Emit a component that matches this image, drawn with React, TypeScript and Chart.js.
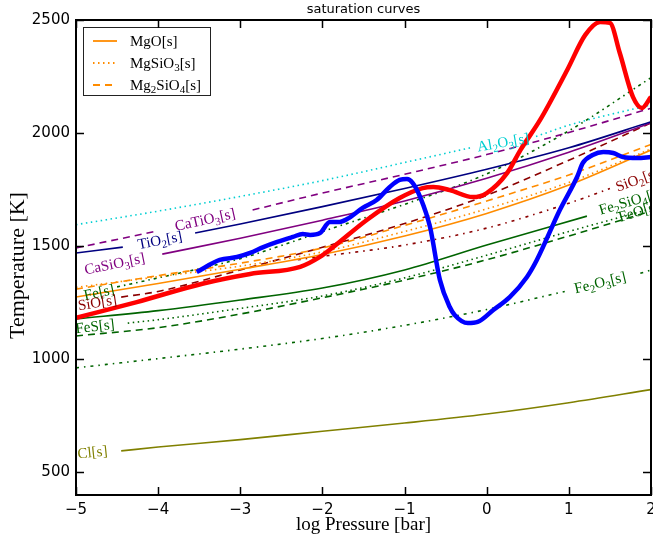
import React, { useEffect, useRef } from 'react';
import { Chart, registerables } from 'chart.js';
Chart.register(...registerables);

// ---------- axes ----------
const xTicks = [-5, -4, -3, -2, -1, 0, 1, 2];
const yTicks = [500, 1000, 1500, 2000, 2500];
const xRange = [-5, 2];
const yRange = [400, 2500];

// ---------- P-T profiles ----------
const redP = [-5, -4.26, -3.45, -2.88, -2.27, -2.03, -1.87, -1.46, -1.06, -0.78, -0.65, -0.45, -0.17, 0, 0.25, 0.41, 0.65, 0.98, 1.2, 1.38, 1.5, 1.62, 1.78, 1.89, 2];
const redT = [1183, 1253, 1335, 1377, 1409, 1453, 1496, 1616, 1713, 1757, 1762, 1748, 1717, 1735, 1824, 1925, 2058, 2279, 2434, 2491, 2487, 2354, 2160, 2111, 2160];

const blueP = [-3.53, -3.25, -3.04, -2.88, -2.72, -2.55, -2.36, -2.24, -2.15, -2.03, -1.91, -1.79, -1.7, -1.51, -1.34, -1.18, -1.06, -0.97, -0.9, -0.81, -0.69, -0.57, -0.45, -0.39, -0.23, -0.11, 0.08, 0.28, 0.49, 0.61, 0.89, 1.1, 1.17, 1.29, 1.42, 1.54, 1.66, 1.83, 2];
const blueT = [1386, 1439, 1452, 1470, 1496, 1519, 1541, 1554, 1550, 1558, 1607, 1607, 1620, 1669, 1704, 1762, 1793, 1797, 1779, 1717, 1585, 1351, 1231, 1196, 1160, 1165, 1218, 1275, 1364, 1439, 1660, 1806, 1868, 1903, 1916, 1912, 1894, 1890, 1894];

// ---------- saturation curves (null = gap where a label sits) ----------
const mgoP = [-5, -4, -3, -2, -1, 0, 1, 2];
const mgoT = [1275, 1335, 1398, 1463, 1545, 1645, 1770, 1925];
const mgsio3P = [-5, -4, -3, -2, -1, 0, 1, 2];
const mgsio3T = [1318, 1365, 1412, 1475, 1565, 1665, 1782, 1930];
const mg2sio4P = [-5, -4, -3, -2, -1, 0, 1, 2];
const mg2sio4T = [1310, 1370, 1425, 1492, 1592, 1700, 1815, 1950];

const al2o3P = [-5, -4, -3, -2, -1, -0.2, 0.2, 0.6, 1, 2];
const al2o3T = [1595, 1655, 1720, 1790, 1870, 1935, null, 1985, 2035, 2125];
const catio3P = [-5, -4, -3.4, -2.85, -2, -1, 0, 1, 2];
const catio3T = [1492, 1568, null, 1660, 1735, 1818, 1905, 2003, 2110];
const tio2P = [-5, -4.43, -4, -3.55, -3, -2, -1, 0, 1, 2];
const tio2T = [1470, 1496, null, 1558, 1598, 1675, 1755, 1840, 1935, 2050];
const casio3P = [-3.95, -3, -2, -1, 0, 1, 2];
const casio3T = [1465, 1535, 1615, 1700, 1800, 1915, 2045];
const feP = [-4.5, -4, -3, -2, -1, 0, 1, 2];
const feT = [1320, 1360, 1445, 1565, 1685, 1820, 2010, 2245];
const sioP = [-4.45, -4, -3, -2, -1, 0, 1, 2];
const sioT = [1275, 1300, 1395, 1495, 1600, 1725, 1880, 2045];
const sio2P = [-2.3, -2, -1, 0, 1, 1.5];
const sio2T = [1440, 1455, 1505, 1580, 1690, 1755];
const fesP = [-4.37, -4, -3, -2, -1, 0, 1, 2];
const fesT = [1160, 1175, 1225, 1280, 1360, 1460, 1565, 1665];
const fe2sio4P = [-5, -4, -3, -2, -1, 0, 1.22];
const fe2sio4T = [1178, 1215, 1262, 1315, 1395, 1505, 1633];
const feoP = [-5, -4, -3, -2, -1, 0, 1, 2];
const feoT = [1103, 1140, 1200, 1272, 1350, 1440, 1545, 1655];
const fe2o3P = [-5, -4, -3, -2, -1, 0, 0.95, 1.4, 1.87, 2];
const fe2o3T = [962, 1003, 1045, 1092, 1150, 1220, 1300, null, 1380, 1395];
const clP = [-4.45, -4, -3, -2, -1, 0, 1, 2];
const clT = [595, 612, 645, 682, 718, 758, 808, 866];

// ---------- styles ----------
const ORANGE = '#FF8C00';
const CYAN = '#00CED1';
const PURPLE = '#800080';
const NAVY = '#000080';
const DGREEN = '#006400';
const DRED = '#8B0000';
const OLIVE = '#808000';
const SOLID: number[] = [];
const DOT = [1.5, 3.5];
const DASH = [7, 5];
const DASHDOT = [3, 4, 1.5, 4];
const DASHDOT2 = [3, 5, 1.5, 5];

const series = [
  { name: 'red', P: redP, T: redT, color: '#FF0000', dash: SOLID, width: 4.5, order: 2 },
  { name: 'blue', P: blueP, T: blueT, color: '#0000FF', dash: SOLID, width: 4.5, order: 1 },
  { name: 'MgO', P: mgoP, T: mgoT, color: ORANGE, dash: SOLID, width: 1.6, order: 10 },
  { name: 'MgSiO3', P: mgsio3P, T: mgsio3T, color: ORANGE, dash: DOT, width: 1.6, order: 10 },
  { name: 'Mg2SiO4', P: mg2sio4P, T: mg2sio4T, color: ORANGE, dash: DASH, width: 1.6, order: 10 },
  { name: 'Al2O3', P: al2o3P, T: al2o3T, color: CYAN, dash: DOT, width: 1.6, order: 10 },
  { name: 'CaTiO3', P: catio3P, T: catio3T, color: PURPLE, dash: DASH, width: 1.6, order: 10 },
  { name: 'TiO2', P: tio2P, T: tio2T, color: NAVY, dash: SOLID, width: 1.6, order: 10 },
  { name: 'CaSiO3', P: casio3P, T: casio3T, color: PURPLE, dash: SOLID, width: 1.6, order: 10 },
  { name: 'Fe', P: feP, T: feT, color: DGREEN, dash: DASHDOT, width: 1.6, order: 10 },
  { name: 'SiO', P: sioP, T: sioT, color: DRED, dash: DASH, width: 1.6, order: 10 },
  { name: 'SiO2', P: sio2P, T: sio2T, color: DRED, dash: DASHDOT2, width: 1.6, order: 10 },
  { name: 'FeS', P: fesP, T: fesT, color: DGREEN, dash: DOT, width: 1.6, order: 10 },
  { name: 'Fe2SiO4', P: fe2sio4P, T: fe2sio4T, color: DGREEN, dash: SOLID, width: 1.6, order: 10 },
  { name: 'FeO', P: feoP, T: feoT, color: DGREEN, dash: DASH, width: 1.6, order: 10 },
  { name: 'Fe2O3', P: fe2o3P, T: fe2o3T, color: DGREEN, dash: DASHDOT2, width: 1.6, order: 10 },
  { name: 'Cl', P: clP, T: clT, color: OLIVE, dash: SOLID, width: 1.6, order: 10 },
];

// inline labels: text, colour, position (data coords), reference series for the angle
const lineLabels = [
  { text: 'Al_2O_3[s]', color: CYAN, P: 0.2, T: 1960, ref: 'Al2O3' },
  { text: 'CaTiO_3[s]', color: PURPLE, P: -3.43, T: 1618, ref: 'CaTiO3' },
  { text: 'TiO_2[s]', color: NAVY, P: -3.98, T: 1527, ref: 'TiO2' },
  { text: 'CaSiO_3[s]', color: PURPLE, P: -4.53, T: 1423, ref: 'CaSiO3' },
  { text: 'Fe[s]', color: DGREEN, P: -4.72, T: 1297, ref: 'Fe' },
  { text: 'SiO[s]', color: DRED, P: -4.74, T: 1252, ref: 'SiO' },
  { text: 'FeS[s]', color: DGREEN, P: -4.77, T: 1147, ref: 'FeS' },
  { text: 'SiO_2[s]', color: DRED, P: 1.83, T: 1795, ref: 'SiO2' },
  { text: 'Fe_2SiO_4[s]', color: DGREEN, P: 1.75, T: 1700, ref: 'Fe2SiO4' },
  { text: 'FeO[s]', color: DGREEN, P: 1.85, T: 1655, ref: 'FeO' },
  { text: 'Fe_2O_3[s]', color: DGREEN, P: 1.38, T: 1340, ref: 'Fe2O3' },
  { text: 'Cl[s]', color: OLIVE, P: -4.8, T: 590, ref: 'Cl' },
];

const legendItems = [
  { text: 'MgO[s]', color: ORANGE, dash: SOLID },
  { text: 'MgSiO_3[s]', color: ORANGE, dash: DOT },
  { text: 'Mg_2SiO_4[s]', color: ORANGE, dash: DASH },
];

const TITLE = 'saturation curves';
const XLABEL = 'log Pressure [bar]';
const YLABEL = 'Temperature [K]';
const SERIF = '"Liberation Serif", "DejaVu Serif", serif';
const SANS = '"DejaVu Sans", sans-serif';

function drawRich(ctx: CanvasRenderingContext2D, text: string, x: number, y: number, size: number, angle: number, color: string, align: 'center' | 'left') {
  const parts: { s: string; sub: boolean; w: number }[] = [];
  let buf = '';
  for (let i = 0; i < text.length; i++) {
    if (text[i] === '_') {
      if (buf) parts.push({ s: buf, sub: false, w: 0 });
      buf = '';
      parts.push({ s: text[i + 1], sub: true, w: 0 });
      i++;
    } else buf += text[i];
  }
  if (buf) parts.push({ s: buf, sub: false, w: 0 });
  const big = `${size}px ${SERIF}`;
  const small = `${Math.round(size * 0.7)}px ${SERIF}`;
  let w = 0;
  for (const p of parts) {
    ctx.font = p.sub ? small : big;
    p.w = ctx.measureText(p.s).width;
    w += p.w;
  }
  ctx.save();
  ctx.translate(x, y);
  ctx.rotate(angle);
  ctx.fillStyle = color;
  ctx.textAlign = 'left';
  ctx.textBaseline = 'alphabetic';
  let cx = align === 'center' ? -w / 2 : 0;
  const base = size * 0.33;
  for (const p of parts) {
    ctx.font = p.sub ? small : big;
    ctx.fillText(p.s, cx, p.sub ? base + size * 0.22 : base);
    cx += p.w;
  }
  ctx.restore();
}

function slopeAngle(chart: any, name: string, P: number) {
  const s = series.find((q) => q.name === name)!;
  const pts: [number, number][] = [];
  s.P.forEach((p, i) => { if (s.T[i] !== null) pts.push([p, s.T[i] as number]); });
  let a = pts[0], b = pts[1];
  for (let i = 0; i < pts.length - 1; i++) {
    if (pts[i][0] <= P) { a = pts[i]; b = pts[i + 1]; }
  }
  const xs = chart.scales.x, ys = chart.scales.y;
  const dx = xs.getPixelForValue(b[0]) - xs.getPixelForValue(a[0]);
  const dy = ys.getPixelForValue(b[1]) - ys.getPixelForValue(a[1]);
  return Math.atan2(dy, dx);
}

const decorPlugin = {
  id: 'decor',
  afterDatasetsDraw(chart: any) {
    const ctx: CanvasRenderingContext2D = chart.ctx;
    const { left, right, top, bottom } = chart.chartArea;
    const xs = chart.scales.x, ys = chart.scales.y;

    // inline labels (clipped)
    ctx.save();
    ctx.beginPath();
    ctx.rect(left, top, right - left, bottom - top);
    ctx.clip();
    for (const l of lineLabels) {
      const ang = slopeAngle(chart, l.ref, l.P);
      drawRich(ctx, l.text, xs.getPixelForValue(l.P), ys.getPixelForValue(l.T), 15, ang, l.color, 'center');
    }
    ctx.restore();

    // legend
    const lx = left + 7, ly = top + 7, lw = 127, lh = 68;
    ctx.save();
    ctx.fillStyle = '#ffffff';
    ctx.fillRect(lx, ly, lw, lh);
    ctx.strokeStyle = '#222';
    ctx.lineWidth = 1;
    ctx.strokeRect(lx + 0.5, ly + 0.5, lw, lh);
    legendItems.forEach((it, i) => {
      const y = ly + 14 + i * 22;
      ctx.strokeStyle = it.color;
      ctx.lineWidth = 1.8;
      ctx.setLineDash(it.dash);
      ctx.beginPath();
      ctx.moveTo(lx + 10, y);
      ctx.lineTo(lx + 34, y);
      ctx.stroke();
      ctx.setLineDash([]);
      drawRich(ctx, it.text, lx + 47, y, 15, 0, '#000', 'left');
    });
    ctx.restore();

    // frame + inward ticks
    ctx.save();
    ctx.strokeStyle = '#000';
    ctx.lineWidth = 1.5;
    ctx.beginPath();
    for (const v of xTicks) {
      const px = Math.round(xs.getPixelForValue(v)) + 0.5;
      ctx.moveTo(px, bottom); ctx.lineTo(px, bottom - 8);
      ctx.moveTo(px, top); ctx.lineTo(px, top + 8);
    }
    for (const v of yTicks) {
      const py = Math.round(ys.getPixelForValue(v)) + 0.5;
      ctx.moveTo(left, py); ctx.lineTo(left + 8, py);
      ctx.moveTo(right, py); ctx.lineTo(right - 8, py);
    }
    ctx.stroke();
    ctx.lineWidth = 2;
    ctx.strokeRect(left, top, right - left, bottom - top);
    ctx.restore();

    // title and axis titles
    ctx.save();
    ctx.fillStyle = '#000';
    ctx.textAlign = 'center';
    ctx.textBaseline = 'middle';
    ctx.font = `13px ${SANS}`;
    ctx.fillText(TITLE, (left + right) / 2, 10);
    ctx.font = `19px ${SERIF}`;
    ctx.fillText(XLABEL, (left + right) / 2, 525);
    ctx.font = `22px ${SERIF}`;
    ctx.translate(18, (top + bottom) / 2 + 8);
    ctx.rotate(-Math.PI / 2);
    ctx.fillText(YLABEL, 0, 0);
    ctx.restore();
  },
};

export default function App() {
  const ref = useRef<HTMLCanvasElement | null>(null);
  useEffect(() => {
    if (!ref.current) return;
    const datasets = series.map((s) => ({
      label: s.name,
      data: s.P.map((p, i) => ({ x: p, y: s.T[i] })),
      borderColor: s.color,
      backgroundColor: s.color,
      borderDash: s.dash,
      borderWidth: s.width,
      pointRadius: 0,
      fill: false,
      spanGaps: false,
      cubicInterpolationMode: 'monotone' as const,
      order: s.order,
      borderCapStyle: 'butt' as const,
    }));
    const chart = new Chart(ref.current, {
      type: 'line',
      data: { datasets: datasets as any },
      options: {
        animation: false,
        responsive: false,
        devicePixelRatio: 1,
        layout: { padding: { top: 20, right: 2, left: 0, bottom: 0 } },
        plugins: { legend: { display: false }, tooltip: { enabled: false }, title: { display: false } },
        scales: {
          x: {
            type: 'linear',
            min: xRange[0],
            max: xRange[1],
            grid: { display: false, drawTicks: false },
            border: { display: false },
            afterBuildTicks: (scale: any) => { scale.ticks = xTicks.map((v) => ({ value: v })); },
            afterFit: (scale: any) => { scale.height = 50; scale.paddingLeft = 0; scale.paddingRight = 0; },
            ticks: {
              padding: 6,
              color: '#000',
              font: { family: SANS, size: 15 },
              maxRotation: 0,
              callback: (v: any) => (v < 0 ? '\u2212' + Math.abs(v) : String(v)),
            },
          },
          y: {
            type: 'linear',
            min: yRange[0],
            max: yRange[1],
            grid: { display: false, drawTicks: false },
            border: { display: false },
            afterBuildTicks: (scale: any) => { scale.ticks = yTicks.map((v) => ({ value: v })); },
            afterFit: (scale: any) => { scale.width = 76; scale.paddingTop = 0; scale.paddingBottom = 0; },
            ticks: {
              padding: 6,
              color: '#000',
              font: { family: SANS, size: 15 },
              callback: (v: any) => String(v),
            },
          },
        },
      },
      plugins: [decorPlugin],
    });
    return () => chart.destroy();
  }, []);
  return (
    <div style={{ position: 'fixed', left: 0, top: 0, width: 653, height: 545, background: '#fff' }}>
      <canvas ref={ref} width={653} height={545} style={{ width: 653, height: 545, display: 'block' }} />
    </div>
  );
}
